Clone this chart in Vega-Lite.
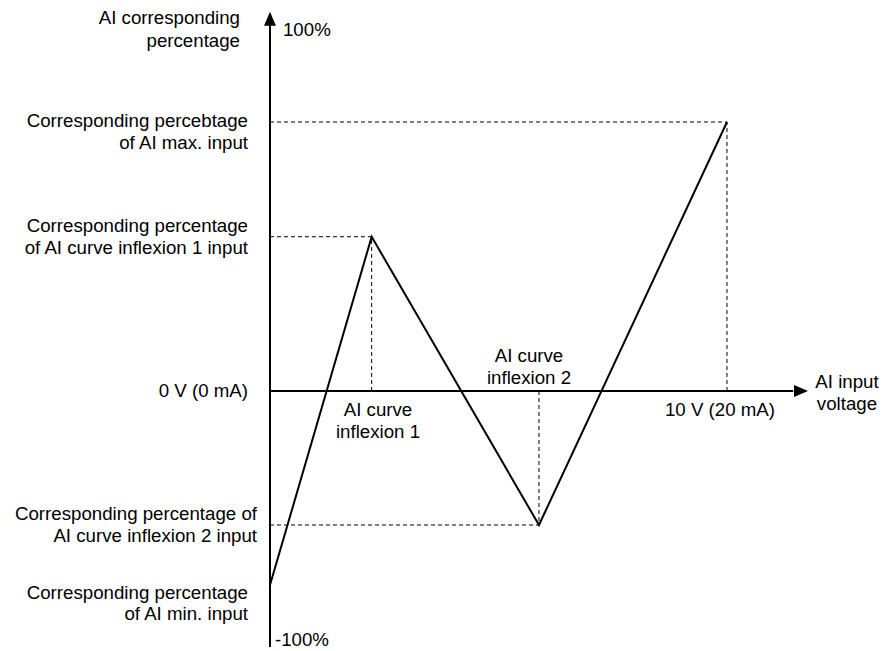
{
  "$schema": "https://vega.github.io/schema/vega-lite/v6.json",
  "width": 883,
  "height": 651,
  "autosize": "none",
  "padding": 0,
  "background": "white",
  "config": {"view": {"stroke": null}, "text": {"font": "Liberation Sans", "fontSize": 18.7, "color": "black"}},
  "datasets": {
    "axes": [
      {"x1": 0, "y1": -67.55, "x2": 0, "y2": 97},
      {"x1": 0, "y1": 0, "x2": 11.45, "y2": 0}
    ],
    "dashes": [
      {"x1": 0, "y1": 40.7, "x2": 2.225, "y2": 40.7},
      {"x1": 2.225, "y1": 0, "x2": 2.225, "y2": 40.7},
      {"x1": 0, "y1": -35.36, "x2": 5.886, "y2": -35.36},
      {"x1": 5.886, "y1": 0, "x2": 5.886, "y2": -35.36},
      {"x1": 0, "y1": 70.98, "x2": 10, "y2": 70.98},
      {"x1": 10, "y1": 0, "x2": 10, "y2": 70.98}
    ],
    "curve": [
      {"v": 0, "p": -51.19},
      {"v": 2.225, "p": 40.7},
      {"v": 5.886, "p": -35.36},
      {"v": 10, "p": 70.98}
    ],
    "arrowUp": [{"x": 0, "y": 98.2}],
    "arrowRight": [{"x": 11.62, "y": 0}],
    "rightLabels": [
      {"x": -0.656, "y": 98.4, "t": "AI corresponding"},
      {"x": -0.656, "y": 92.3, "t": "percentage"},
      {"x": -0.481, "y": 71.2, "t": "Corresponding percebtage"},
      {"x": -0.481, "y": 65.4, "t": "of AI max. input"},
      {"x": -0.481, "y": 43.5, "t": "Corresponding percentage"},
      {"x": -0.481, "y": 37.7, "t": "of AI curve inflexion 1 input"},
      {"x": -0.284, "y": -32.5, "t": "Corresponding percentage of"},
      {"x": -0.284, "y": -38.3, "t": "AI curve inflexion 2 input"},
      {"x": -0.481, "y": -53.3, "t": "Corresponding percentage"},
      {"x": -0.481, "y": -58.8, "t": "of AI min. input"},
      {"x": -0.481, "y": 0, "t": "0 V (0 mA)"}
    ],
    "centerLabels": [
      {"x": 2.363, "y": -5.01, "t": "AI curve"},
      {"x": 2.363, "y": -10.82, "t": "inflexion 1"},
      {"x": 5.667, "y": 9.23, "t": "AI curve"},
      {"x": 5.667, "y": 3.43, "t": "inflexion 2"},
      {"x": 9.847, "y": -5.01, "t": "10 V (20 mA)"},
      {"x": 12.626, "y": 2.37, "t": "AI input"},
      {"x": 12.626, "y": -3.43, "t": "voltage"}
    ],
    "leftLabels": [
      {"x": 0.284, "y": 95.25, "t": "100%"},
      {"x": 0.109, "y": -65.7, "t": "-100%"}
    ]
  },
  "layer": [
    {
      "data": {"name": "dashes"},
      "mark": {"type": "rule", "color": "black", "strokeWidth": 1, "strokeDash": [4, 3]},
      "encoding": {
        "x": {"field": "x1", "type": "quantitative", "scale": {"domain": [-5.908, 13.414], "nice": false, "zero": false}, "axis": null},
        "y": {"field": "y1", "type": "quantitative", "scale": {"domain": [-68.602, 103.166], "nice": false, "zero": false}, "axis": null},
        "x2": {"field": "x2"},
        "y2": {"field": "y2"}
      }
    },
    {
      "data": {"name": "axes"},
      "mark": {"type": "rule", "color": "black", "strokeWidth": 2},
      "encoding": {
        "x": {"field": "x1", "type": "quantitative"},
        "y": {"field": "y1", "type": "quantitative"},
        "x2": {"field": "x2"},
        "y2": {"field": "y2"}
      }
    },
    {
      "data": {"name": "curve"},
      "mark": {"type": "line", "color": "black", "strokeWidth": 2},
      "encoding": {
        "x": {"field": "v", "type": "quantitative"},
        "y": {"field": "p", "type": "quantitative"}
      }
    },
    {
      "data": {"name": "arrowUp"},
      "mark": {"type": "point", "filled": true, "color": "black", "opacity": 1, "size": 196, "shape": "M0,-1L0.85,1L-0.85,1Z"},
      "encoding": {
        "x": {"field": "x", "type": "quantitative"},
        "y": {"field": "y", "type": "quantitative"}
      }
    },
    {
      "data": {"name": "arrowRight"},
      "mark": {"type": "point", "filled": true, "color": "black", "opacity": 1, "size": 196, "shape": "M1,0L-1,0.85L-1,-0.85Z"},
      "encoding": {
        "x": {"field": "x", "type": "quantitative"},
        "y": {"field": "y", "type": "quantitative"}
      }
    },
    {
      "data": {"name": "rightLabels"},
      "mark": {"type": "text", "align": "right", "baseline": "middle"},
      "encoding": {
        "x": {"field": "x", "type": "quantitative"},
        "y": {"field": "y", "type": "quantitative"},
        "text": {"field": "t"}
      }
    },
    {
      "data": {"name": "centerLabels"},
      "mark": {"type": "text", "align": "center", "baseline": "middle"},
      "encoding": {
        "x": {"field": "x", "type": "quantitative"},
        "y": {"field": "y", "type": "quantitative"},
        "text": {"field": "t"}
      }
    },
    {
      "data": {"name": "leftLabels"},
      "mark": {"type": "text", "align": "left", "baseline": "middle"},
      "encoding": {
        "x": {"field": "x", "type": "quantitative"},
        "y": {"field": "y", "type": "quantitative"},
        "text": {"field": "t"}
      }
    }
  ]
}
